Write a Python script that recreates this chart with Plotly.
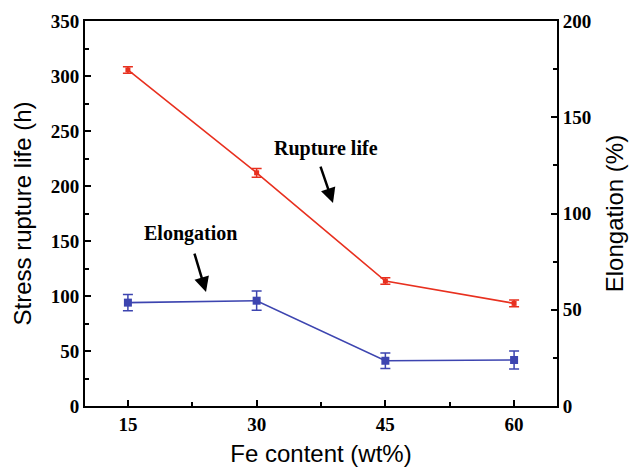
import plotly.graph_objects as go

fe_content = [15, 30, 45, 60]
rupture_life = [305.5, 212, 113.6, 93.3]
rupture_err = [3, 4, 3, 3]
elongation = [53.7, 54.7, 23.5, 23.9]
elongation_err = [4.2, 5.0, 4.0, 4.7]

x_ticks = [15, 30, 45, 60]
y1_ticks = [0, 50, 100, 150, 200, 250, 300, 350]
y2_ticks = [0, 50, 100, 150, 200]

RED = "#e8301f"
BLUE = "#3d45b0"
TICKFONT = dict(family="Liberation Serif", size=19, color="black", weight="bold")
TITLEFONT = dict(family="Liberation Sans", size=24, color="black")

fig = go.Figure()
fig.add_trace(go.Scatter(
    x=fe_content, y=rupture_life, mode="lines+markers",
    line=dict(color=RED, width=1.6),
    marker=dict(symbol="square", size=5, color=RED),
    error_y=dict(type="data", array=rupture_err, color=RED, thickness=1.5, width=5),
    yaxis="y", showlegend=False))
fig.add_trace(go.Scatter(
    x=fe_content, y=elongation, mode="lines+markers",
    line=dict(color=BLUE, width=1.6),
    marker=dict(symbol="square", size=8, color=BLUE),
    error_y=dict(type="data", array=elongation_err, color=BLUE, thickness=1.5, width=5),
    yaxis="y2", showlegend=False))

axis_common = dict(showline=True, linecolor="black", linewidth=2, showgrid=False,
                   zeroline=False, ticks="inside", tickcolor="black", tickwidth=1.5,
                   ticklen=6, tickfont=TICKFONT, title_font=TITLEFONT, automargin=False)

fig.update_layout(
    width=630, height=467,
    margin=dict(l=85, r=73, t=21, b=61),
    paper_bgcolor="white", plot_bgcolor="white",
    xaxis=dict(**axis_common, range=[10, 65], tickvals=x_ticks, mirror=True,
               minor=dict(tickvals=[22.5, 37.5, 52.5], ticks="inside", ticklen=4,
                          tickcolor="black", tickwidth=1.5),
               title=dict(text="Fe content (wt%)", standoff=14)),
    yaxis=dict(**axis_common, range=[0, 350], tickvals=y1_ticks,
               minor=dict(dtick=25, ticks="inside", ticklen=4, tickcolor="black", tickwidth=1.5),
               title=dict(text="Stress rupture life (h)", standoff=12)),
    yaxis2=dict(**axis_common, range=[0, 200], tickvals=y2_ticks, overlaying="y", side="right",
                minor=dict(dtick=25, ticks="inside", ticklen=4, tickcolor="black", tickwidth=1.5),
                title=dict(text="Elongation (%)", standoff=16)),
)

ann_font = dict(family="Liberation Serif", size=20, color="black", weight="bold")
fig.add_annotation(x=38.1, y=234.5, xref="x", yref="y", text="Rupture life",
                   showarrow=False, font=ann_font)
fig.add_annotation(x=22.35, y=157, xref="x", yref="y", text="Elongation",
                   showarrow=False, font=ann_font)
fig.add_annotation(x=38.9, y=184.5, xref="x", yref="y", text="", showarrow=True,
                   ax=-13, ay=-38, arrowhead=2, arrowsize=1.2, arrowwidth=2.5, arrowcolor="black")
fig.add_annotation(x=24.1, y=103.6, xref="x", yref="y", text="", showarrow=True,
                   ax=-12, ay=-40, arrowhead=2, arrowsize=1.2, arrowwidth=2.5, arrowcolor="black")

fig.write_html("out.html")
